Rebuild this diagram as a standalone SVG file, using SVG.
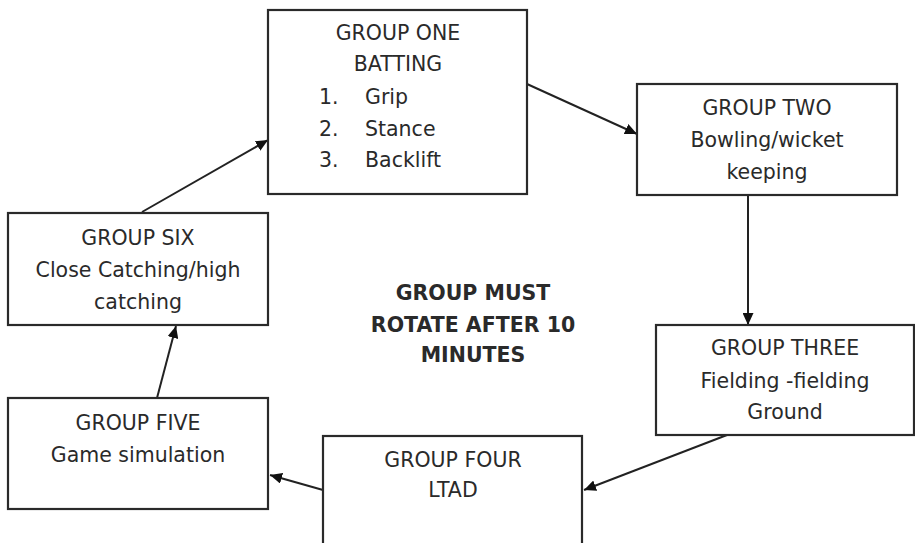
<svg xmlns="http://www.w3.org/2000/svg" width="915" height="543" viewBox="0 0 915 543">
<style>
.box{fill:#fff;stroke:#2a2a2a;stroke-width:2.2}
.t{font-family:"DejaVu Sans","Liberation Sans",sans-serif;font-size:20.5px;fill:#2a2a2a;text-anchor:middle;dominant-baseline:central}
.l{text-anchor:start}
.b{font-weight:bold;font-size:20.5px}
.c{stroke:#222;stroke-width:2;fill:none;marker-end:url(#ah)}
</style>
<defs>
<marker id="ah" viewBox="0 0 12 11" refX="12" refY="5.5" markerWidth="12" markerHeight="11" markerUnits="userSpaceOnUse" orient="auto">
<path d="M0,0 L12,5.5 L0,11 Z" fill="#111"/>
</marker>
</defs>
<rect width="915" height="543" fill="#fff"/>
<g id="connectors">
<line class="c" x1="142" y1="212" x2="268" y2="140"/>
<line class="c" x1="527" y1="84" x2="637" y2="134"/>
<line class="c" x1="748" y1="195" x2="748" y2="325"/>
<line class="c" x1="727" y1="435" x2="584" y2="490"/>
<line class="c" x1="323" y1="490" x2="270" y2="475"/>
<line class="c" x1="157" y1="398" x2="176" y2="326"/>
</g>
<g id="group-one">
<rect class="box" x="268" y="10" width="259" height="184"/>
<text class="t" x="398" y="33">GROUP ONE</text>
<text class="t" x="398" y="64">BATTING</text>
<text class="t l" x="319" y="97">1.</text><text class="t l" x="365" y="97">Grip</text>
<text class="t l" x="319" y="129">2.</text><text class="t l" x="365" y="129">Stance</text>
<text class="t l" x="319" y="160">3.</text><text class="t l" x="365" y="160">Backlift</text>
</g>
<g id="group-two">
<rect class="box" x="637" y="84" width="260" height="111"/>
<text class="t" x="767" y="108">GROUP TWO</text>
<text class="t" x="767" y="140">Bowling/wicket</text>
<text class="t" x="767" y="172">keeping</text>
</g>
<g id="group-three">
<rect class="box" x="656" y="325" width="258" height="110"/>
<text class="t" x="785" y="348">GROUP THREE</text>
<text class="t" x="785" y="381">Fielding -fielding</text>
<text class="t" x="785" y="412">Ground</text>
</g>
<g id="group-four">
<rect class="box" x="323" y="436" width="259" height="120"/>
<text class="t" x="453" y="460">GROUP FOUR</text>
<text class="t" x="453" y="490">LTAD</text>
</g>
<g id="group-five">
<rect class="box" x="8" y="398" width="260" height="111"/>
<text class="t" x="138" y="423">GROUP FIVE</text>
<text class="t" x="138" y="455">Game simulation</text>
</g>
<g id="group-six">
<rect class="box" x="8" y="213" width="260" height="112"/>
<text class="t" x="138" y="238">GROUP SIX</text>
<text class="t" x="138" y="270">Close Catching/high</text>
<text class="t" x="138" y="302">catching</text>
</g>
<g id="note">
<text class="t b" x="473" y="293">GROUP MUST</text>
<text class="t b" x="473" y="325">ROTATE AFTER 10</text>
<text class="t b" x="473" y="355">MINUTES</text>
</g>
</svg>
